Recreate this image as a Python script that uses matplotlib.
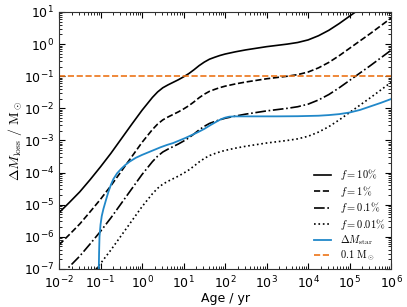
import matplotlib
matplotlib.use("Agg")
import matplotlib.pyplot as plt
import numpy as np
from matplotlib.font_manager import FontProperties

# ------------------------
# DATA (log10 values)
# ------------------------
log_age_f = [-2.0, -1.75, -1.5, -1.25, -1.0, -0.75, -0.5, -0.25, 0.0, 0.25,
             0.375, 0.5, 0.625, 0.75, 0.875, 1.0, 1.125, 1.25, 1.375, 1.5,
             1.625, 1.75, 1.875, 2.0, 2.25, 2.5, 2.75, 3.0, 3.25, 3.5,
             3.75, 4.0, 4.25, 4.5, 4.75, 5.0, 5.25, 5.5, 5.75, 6.0]

log_loss_f10 = [-5.25, -4.93, -4.60, -4.22, -3.82, -3.40, -2.95, -2.50, -2.06, -1.66,
                -1.49, -1.36, -1.27, -1.19, -1.11, -1.02, -0.92, -0.80, -0.67, -0.56,
                -0.47, -0.41, -0.355, -0.31, -0.24, -0.18, -0.13, -0.08, -0.04, 0.0,
                0.05, 0.13, 0.26, 0.43, 0.64, 0.87, 1.10, 1.33, 1.57, 1.81]

log_loss_f1 = [-6.25, -5.93, -5.60, -5.22, -4.83, -4.41, -3.96, -3.51, -3.06, -2.66,
               -2.49, -2.36, -2.27, -2.19, -2.11, -2.02, -1.92, -1.80, -1.67, -1.56,
               -1.47, -1.41, -1.355, -1.31, -1.24, -1.18, -1.13, -1.08, -1.04, -1.0,
               -0.95, -0.87, -0.74, -0.57, -0.36, -0.13, 0.10, 0.33, 0.57, 0.81]

log_loss_f01 = [-7.25, -6.93, -6.60, -6.22, -5.83, -5.41, -4.96, -4.51, -4.06, -3.66,
                -3.49, -3.36, -3.27, -3.19, -3.11, -3.02, -2.92, -2.80, -2.67, -2.56,
                -2.47, -2.41, -2.355, -2.31, -2.24, -2.18, -2.13, -2.08, -2.04, -2.0,
                -1.95, -1.87, -1.74, -1.57, -1.36, -1.13, -0.90, -0.67, -0.43, -0.19]

log_loss_f001 = [-8.25, -7.93, -7.60, -7.22, -6.83, -6.41, -5.96, -5.51, -5.06, -4.66,
                 -4.49, -4.36, -4.27, -4.19, -4.11, -4.02, -3.92, -3.80, -3.67, -3.56,
                 -3.47, -3.41, -3.355, -3.31, -3.24, -3.18, -3.13, -3.08, -3.04, -3.0,
                 -2.95, -2.87, -2.74, -2.57, -2.36, -2.13, -1.90, -1.67, -1.43, -1.19]

log_age_star = [-1.048, -1.035, -1.025, -1.0, -0.97, -0.93, -0.89, -0.85, -0.81, -0.75,
                -0.69, -0.6, -0.5, -0.4, -0.3, -0.15, 0.0, 0.15, 0.3, 0.45,
                0.6, 0.75, 0.9, 1.05, 1.2, 1.35, 1.5, 1.65, 1.8, 1.9,
                2.0, 2.1, 2.25, 2.75, 3.25, 3.75, 4.25, 4.5, 4.75, 5.0,
                5.25, 5.5, 5.75, 6.0]
log_mass_star = [-7.5, -6.5, -6.0, -5.62, -5.35, -5.13, -4.95, -4.77, -4.6, -4.38,
                 -4.2, -4.02, -3.88, -3.76, -3.66, -3.54, -3.45, -3.37, -3.29, -3.21,
                 -3.14, -3.08, -3.0, -2.92, -2.83, -2.74, -2.64, -2.52, -2.41, -2.34,
                 -2.29, -2.26, -2.25, -2.25, -2.25, -2.245, -2.23, -2.21, -2.18, -2.13,
                 -2.05, -1.94, -1.83, -1.71]

ref_mass = 0.1

labels_f = [r"$f=10\%$", r"$f=1\%$", r"$f=0.1\%$", r"$f=0.01\%$"]

age_f = 10.0 ** np.array(log_age_f)
age_star = 10.0 ** np.array(log_age_star)

# ------------------------
# PLOT
# ------------------------
fig = plt.figure(figsize=(4.07, 3.07), dpi=100)
ax = fig.add_axes([0.145, 0.124, 0.816, 0.837])

styles = ["-", "--", "-.", ":"]
for vals, ls, lab in zip([log_loss_f10, log_loss_f1, log_loss_f01, log_loss_f001], styles, labels_f):
    ax.plot(age_f, 10.0 ** np.array(vals), color="black", lw=1.2, ls=ls, label=lab)

ax.plot(age_star, 10.0 ** np.array(log_mass_star), color="#2188c9", lw=1.3,
        label=r"$\Delta M_{\rm star}$")
ax.axhline(ref_mass, color="#ec7418", lw=1.2, ls="--", label=r"$0.1\ \mathrm{M}_\odot$")

ax.set_xscale("log")
ax.set_yscale("log")
ax.set_xlim(1e-2, 1e6)
ax.set_ylim(1e-7, 1e1)

ax.tick_params(which="both", direction="in", top=True, right=True, labelsize=9)
ax.tick_params(which="major", length=4)
ax.tick_params(which="minor", length=2)
ax.tick_params(axis="x", which="major", pad=4.5)
for sp in ax.spines.values():
    sp.set_color("#333333")

ax.set_xlabel("Age / yr", fontsize=9, labelpad=0)
ax.set_ylabel(r"$\Delta M_{\rm loss}\ /\ \mathrm{M}_\odot$", fontsize=10,
              math_fontfamily="cm")
ax.yaxis.set_label_coords(-0.105, 0.5)

leg_font = FontProperties(family="DejaVu Serif", size=7.5, math_fontfamily="cm")
ax.legend(loc="lower right", frameon=False, prop=leg_font, handlelength=1.6,
          handletextpad=0.9, labelspacing=0.15, borderaxespad=0.15)

fig.savefig("out.png", dpi=100)
